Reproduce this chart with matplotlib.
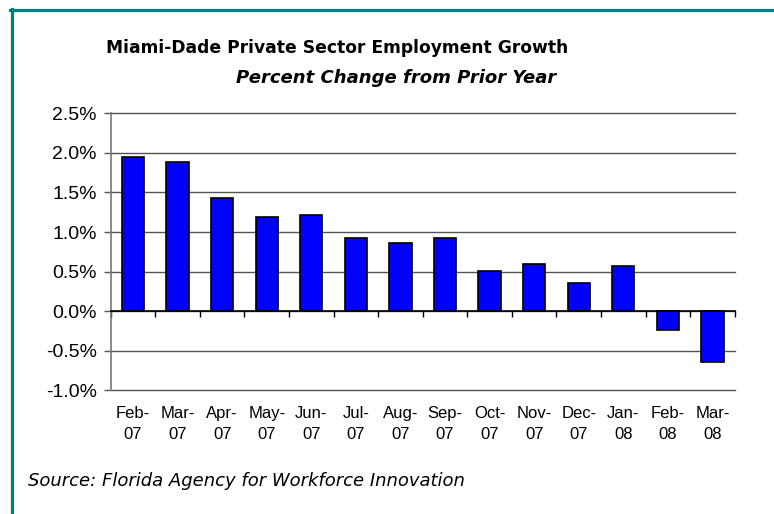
import matplotlib
matplotlib.use("Agg")
import matplotlib.pyplot as plt
from matplotlib.lines import Line2D
from matplotlib.ticker import FixedLocator, NullFormatter

months = ["Feb-\n07", "Mar-\n07", "Apr-\n07", "May-\n07", "Jun-\n07", "Jul-\n07",
          "Aug-\n07", "Sep-\n07", "Oct-\n07", "Nov-\n07", "Dec-\n07", "Jan-\n08",
          "Feb-\n08", "Mar-\n08"]
growth = [1.95, 1.89, 1.43, 1.19, 1.21, 0.93, 0.86, 0.93, 0.51, 0.60, 0.35, 0.565,
          -0.24, -0.64]
y_ticks = [-1.0, -0.5, 0.0, 0.5, 1.0, 1.5, 2.0, 2.5]

W, H = 774, 514
fig = plt.figure(figsize=(W / 100, H / 100), dpi=100)
ax = fig.add_axes([110.7 / W, 1 - 390.3 / H, (734.7 - 110.7) / W, (390.3 - 113.3) / H])

x = list(range(len(months)))
ax.bar(x, growth, width=0.5, color="#0000FF", edgecolor="black", linewidth=1.2, zorder=3)

ax.set_xlim(-0.5, len(months) - 0.5)
ax.set_ylim(-1.0, 2.5)

for v in y_ticks:
    ax.axhline(v, color="#555555", lw=1.0, zorder=1, clip_on=False)

# y axis
ax.set_yticks(y_ticks)
ax.set_yticklabels(["{:.1f}%".format(v) for v in y_ticks], family="Liberation Sans", fontsize=14)
ax.tick_params(axis="y", length=5, width=1, color="#555555", pad=5)

for s in ["top", "right"]:
    ax.spines[s].set_visible(False)
ax.spines["left"].set_color("#777777")
ax.spines["left"].set_linewidth(1.2)

# x axis sits at zero, ticks between the bars
ax.spines["bottom"].set_position(("data", 0))
ax.spines["bottom"].set_color("black")
ax.spines["bottom"].set_linewidth(1.2)
ax.spines["bottom"].set_zorder(4)
ax.xaxis.set_major_locator(FixedLocator([i - 0.5 for i in range(len(months) + 1)]))
ax.xaxis.set_major_formatter(NullFormatter())
ax.tick_params(axis="x", direction="out", length=4, width=1, color="black")

for i, m in enumerate(months):
    ax.annotate(m, xy=(i, 0), xycoords=("data", "axes fraction"),
                xytext=(0, -11.5), textcoords="offset points",
                ha="center", va="top", fontsize=12, linespacing=1.5,
                family="Liberation Sans")

fig.text(337 / W, 1 - 48 / H, "Miami-Dade Private Sector Employment Growth",
         ha="center", va="center", fontsize=12.3, fontweight="bold", family="DejaVu Sans")
fig.text(396 / W, 1 - 78 / H, "Percent Change from Prior Year",
         ha="center", va="center", fontsize=13, fontweight="bold", style="italic",
         family="DejaVu Sans")
fig.text(28 / W, 1 - 481 / H, "Source: Florida Agency for Workforce Innovation",
         ha="left", va="center", fontsize=13, style="italic",
         family="DejaVu Sans")

# teal frame, top and left only
fig.add_artist(Line2D([10 / W, 1], [1 - 9.7 / H] * 2, transform=fig.transFigure,
                      color="#008080", lw=2.3))
fig.add_artist(Line2D([11.7 / W] * 2, [1 - 8.5 / H, 0], transform=fig.transFigure,
                      color="#008080", lw=2.3))

fig.savefig("out.png", dpi=100)
